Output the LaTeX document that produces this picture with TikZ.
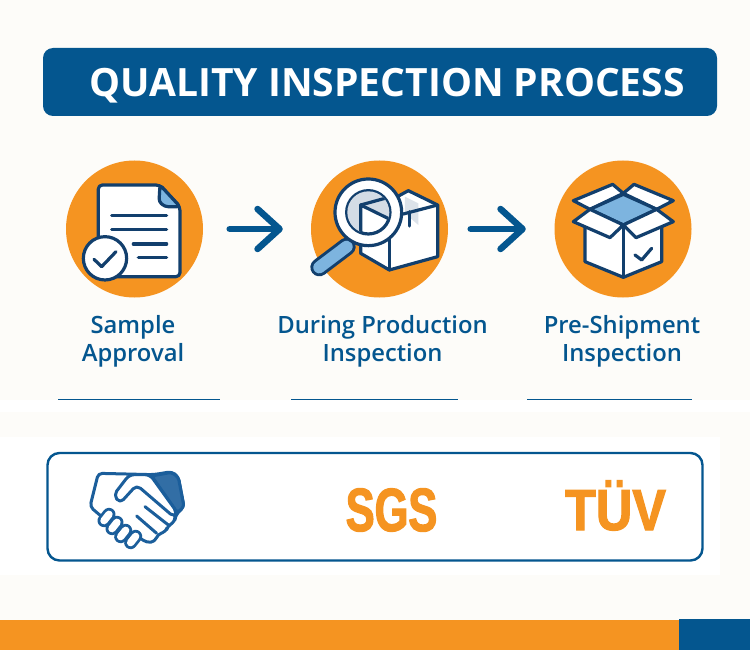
\documentclass[tikz,border=0pt]{standalone}
\usepackage{fontspec}
\usetikzlibrary{arrows.meta}
\setmainfont{Open Sans}
\newfontfamily\headfont{Open Sans Bold}
\newfontfamily\labelfont{Open Sans Semibold}
\newfontfamily\sgsfont[FakeStretch=0.71,FakeBold=2]{Liberation Sans Bold}
\newfontfamily\tuvfont[FakeStretch=0.87,FakeBold=2]{Liberation Sans Bold}
\definecolor{paper}{HTML}{FDFCF9}
\definecolor{brandblue}{HTML}{04568F}
\definecolor{brandorange}{HTML}{F59421}
\definecolor{inkblue}{HTML}{123F6D}
\definecolor{skyblue}{HTML}{7DB4DF}
\definecolor{shakeblue}{HTML}{1B5E9B}
\tikzset{
  disc/.style={circle,fill=brandorange,minimum size=137pt,inner sep=0pt},
  steptext/.style={text=brandblue,align=center,font=\labelfont\fontsize{23.8}{28}\selectfont},
  flow/.style={draw=brandblue,line width=6.5pt,line cap=round,-{Straight Barb[round,length=22pt,width=40pt]}},
  ink/.style={draw=inkblue,line width=3.2pt,line join=round,line cap=round},
  shake/.style={draw=shakeblue,line width=3pt,line join=round,line cap=round},
  badge/.style={text=brandorange,anchor=base,inner sep=0pt}
}
% one finger of the handshake
\newcommand{\createfinger}[4]{\draw[shakeblue,line width=13pt,line cap=round] ( #1 , #2 ) -- ( #3 , #4 ); \draw[white,line width=7.4pt,line cap=round] ( #1 , #2 ) -- ( #3 , #4 );}

\begin{document}
\begin{tikzpicture}[x=1pt,y=-1pt]
    \fill[paper] (0,0) rectangle (750,650);
    \fill[white] (0,400) rectangle (750,412);
    \fill[white] (0,437) rectangle (720,575);
    \useasboundingbox (0,0) rectangle (750,650);

    %title
    \fill[brandblue,rounded corners=10pt] (43,48) rectangle (717,116);
    \node[anchor=base] (title) at (387,97) {\textcolor{white}{\headfont\fontsize{39}{39}\selectfont QUALITY INSPECTION PROCESS}};

    %steps
    \node[disc] (approval) at (134.5,229) {};
    \node[disc] (production) at (379.5,229) {};
    \node[disc] (shipment) at (623,229) {};
    \draw[flow,shorten <=26.5pt,shorten >=28pt] (approval) -- (production);
    \draw[flow,shorten <=22.5pt,shorten >=28.5pt] (production) -- (shipment);

    \node[steptext] (approvaltext) at (133,341) {Sample\\Approval};
    \node[steptext] (productiontext) at (382.5,341) {During Production\\Inspection};
    \node[steptext] (shipmenttext) at (622,341) {Pre-Shipment\\Inspection};

    %document icon
    \begin{scope}[shift={(50,150)},scale=0.3333]
        \filldraw[ink,fill=white,rounded corners=4pt] (145,300) -- (145,105) -- (330,105) -- (390,170) -- (390,380) -- (180,380);
        \filldraw[ink,fill=skyblue,rounded corners=3pt] (330,105) -- (327,155) -- (345,170) -- (390,170) -- cycle;
        \foreach \xa/\yy in {185/197,185/238,250/282,265/323}
            \draw[ink] (\xa,\yy) -- (350,\yy);
        \filldraw[ink,fill=white] (165,325) circle (65);
        \draw[ink] (132,328) -- (155,350) -- (198,305);
    \end{scope}

    %inspection icon
    \begin{scope}[shift={(290,150)},scale=0.3333]
        \filldraw[ink,fill=white] (355,122) -- (443,165) -- (443,320) -- (298,360) -- (212,310) -- (212,200) -- cycle;
        \fill[inkblue!15] (345,140) -- (385,160) -- (385,225) -- (345,190) -- cycle;
        \draw[ink] (443,165) -- (340,192);
        \draw[ink] (298,240) -- (298,360);
        \draw[ink] (358,185) -- (358,228);
        \draw[inkblue,line width=9pt] (165,265) -- (185,282);
        \draw[white,line width=3.5pt] (165,265) -- (185,282);
        \draw[inkblue,line width=18pt,line cap=round] (170,290) -- (88,352);
        \draw[skyblue,line width=12pt,line cap=round] (170,290) -- (88,352);
        \filldraw[ink,fill=white] (235,187) circle (100);
        \filldraw[ink,fill=white] (235,187) circle (65);
        \begin{scope}
            \clip (235,187) circle (63);
            \fill[inkblue!18] (212,165) -- (300,208) -- (310,120) -- (160,120) -- (160,260) -- (212,260) -- cycle;
            \draw[ink] (212,250) -- (212,165) -- (300,208);
            \draw[ink] (212,165) -- (285,145);
        \end{scope}
    \end{scope}

    %box icon
    \begin{scope}[shift={(530,150)},scale=0.3333]
        \filldraw[ink,fill=white] (130,152) -- (248,103) -- (280,130) -- (180,178) -- cycle;
        \filldraw[ink,fill=white] (430,152) -- (312,103) -- (280,130) -- (380,178) -- cycle;
        \filldraw[ink,fill=skyblue] (280,133) -- (380,178) -- (280,225) -- (180,178) -- cycle;
        \filldraw[ink,fill=white] (165,225) -- (165,335) -- (280,382) -- (395,335) -- (395,225) -- (280,225) -- cycle;
        \draw[ink] (280,225) -- (280,382);
        \filldraw[ink,fill=white] (180,178) -- (130,215) -- (240,263) -- (280,225) -- cycle;
        \filldraw[ink,fill=white] (380,178) -- (430,215) -- (318,263) -- (280,225) -- cycle;
        \draw[ink] (315,315) -- (335,330) -- (365,295);
    \end{scope}

    %clipped cards
    \foreach \xa/\xb in {58/220,291/458,527/692}
        \draw[brandblue,line width=1.2pt] (\xa,399.3) -- (\xb,399.3);

    %partners
    \draw[brandblue,line width=2.4pt,rounded corners=12pt] (47.5,453) rectangle (702.5,560.5);
    \begin{scope}[shift={(40,390)},scale=0.3333]
        \filldraw[shake,fill=white,rounded corners=4pt] (175,250) -- (340,254) -- (395,245) -- (415,260) -- (432,350) -- (405,378) -- (405,395) -- (383,408) -- (378,425) -- (353,433) -- (345,455) -- (320,458) -- (280,430) -- (185,380) -- (150,350) -- cycle;
        \filldraw[shake,fill=shakeblue!90!white,rounded corners=3pt] (335,258) -- (395,247) -- (415,262) -- (432,350) -- (412,368) -- cycle;
        \filldraw[shake,fill=white,rounded corners=5pt] (268,254) -- (221,315) -- (240,340) -- (290,285) -- (403,382) -- (412,368) -- (330,254) -- cycle;
        \draw[shake] (315,350) -- (385,405);
        \draw[shake] (290,378) -- (350,430);
        \foreach \ax/\ay in {192/392,216/416,242/440,272/458} {
            \createfinger{\ax}{\ay}{\ax+15}{\ay-19}
        }
    \end{scope}
    \node[badge] (sgs) at (391.5,531) {\sgsfont\fontsize{61}{61}\selectfont SGS};
    \node[badge] (tuv) at (615.5,530) {\tuvfont\fontsize{58}{58}\selectfont TÜV};

    %footer
    \fill[brandorange] (0,620) rectangle (679,650);
    \fill[brandblue] (679,619) rectangle (750,650);
\end{tikzpicture}
\end{document}
